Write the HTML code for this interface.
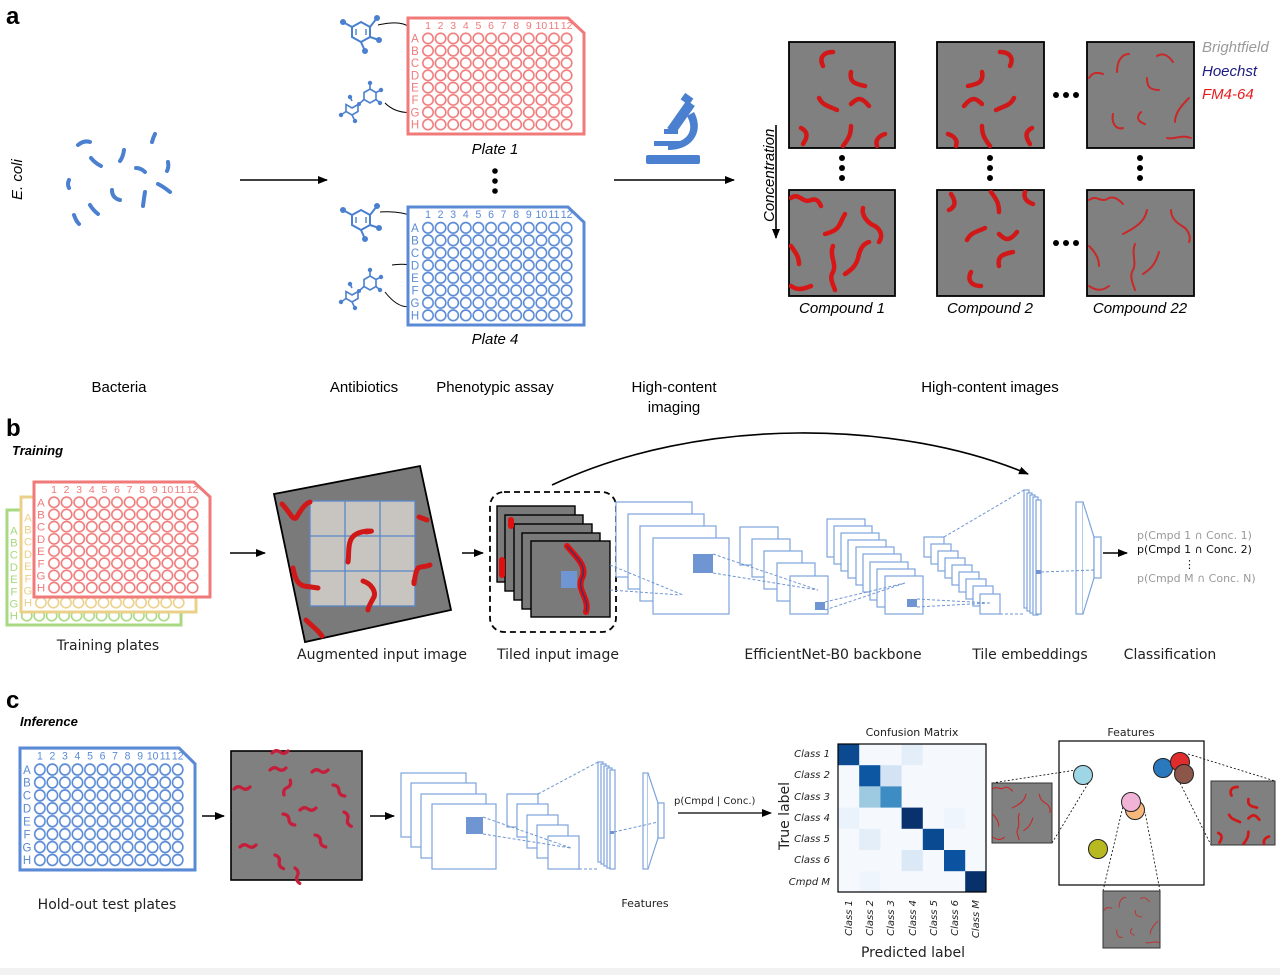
<!DOCTYPE html>
<html><head><meta charset="utf-8"><style>
html,body{margin:0;padding:0;background:#fff}
svg{display:block}
.a{font-family:"Liberation Sans",Arial,sans-serif}
.d{font-family:"DejaVu Sans","Liberation Sans",sans-serif}
</style></head><body>
<svg width="1280" height="975" viewBox="0 0 1280 975" xmlns="http://www.w3.org/2000/svg">
<defs>
<marker id="ar" markerWidth="10" markerHeight="10" refX="9" refY="5" orient="auto" markerUnits="userSpaceOnUse"><path d="M0,1 L10,5 L0,9 Z" fill="#000"/></marker>
<pattern id="pR" patternUnits="userSpaceOnUse" x="15.7" y="16.3" width="12.6" height="12.3"><circle cx="6.3" cy="6.15" r="5.2" fill="none" stroke="#f07a7a" stroke-width="1.6"/></pattern>
<pattern id="pB" patternUnits="userSpaceOnUse" x="15.7" y="16.3" width="12.6" height="12.3"><circle cx="6.3" cy="6.15" r="5.2" fill="none" stroke="#5a8ad6" stroke-width="1.6"/></pattern>
<pattern id="pY" patternUnits="userSpaceOnUse" x="15.7" y="16.3" width="12.6" height="12.3"><circle cx="6.3" cy="6.15" r="5.2" fill="none" stroke="#ebd08a" stroke-width="1.6"/></pattern>
<pattern id="pG" patternUnits="userSpaceOnUse" x="15.7" y="16.3" width="12.6" height="12.3"><circle cx="6.3" cy="6.15" r="5.2" fill="none" stroke="#a8d880" stroke-width="1.6"/></pattern>
<g id="pbase">
<path d="M2,2 H162 L178,17 V118 H2 Z" fill="#fff" stroke="currentColor" stroke-width="3"/>
<g fill="currentColor" font-family="Liberation Sans,DejaVu Sans,sans-serif" font-size="10.5" text-anchor="middle">
<text x="22" y="13">1</text><text x="34.6" y="13">2</text><text x="47.2" y="13">3</text><text x="59.8" y="13">4</text><text x="72.4" y="13">5</text><text x="85" y="13">6</text><text x="97.6" y="13">7</text><text x="110.2" y="13">8</text><text x="122.8" y="13">9</text><text x="135.4" y="13">10</text><text x="148" y="13">11</text><text x="160.6" y="13">12</text>
</g>
<g fill="currentColor" font-family="Liberation Sans,DejaVu Sans,sans-serif" font-size="11.5" text-anchor="middle">
<text x="9" y="26.5">A</text><text x="9" y="38.8">B</text><text x="9" y="51.1">C</text><text x="9" y="63.4">D</text><text x="9" y="75.7">E</text><text x="9" y="88">F</text><text x="9" y="100.3">G</text><text x="9" y="112.6">H</text>
</g></g>
<symbol id="plR" viewBox="0 0 180 120" preserveAspectRatio="none"><use href="#pbase"/><rect x="15.7" y="16.3" width="151.2" height="98.4" fill="url(#pR)"/></symbol>
<symbol id="plB" viewBox="0 0 180 120" preserveAspectRatio="none"><use href="#pbase"/><rect x="15.7" y="16.3" width="151.2" height="98.4" fill="url(#pB)"/></symbol>
<symbol id="plY" viewBox="0 0 180 120" preserveAspectRatio="none"><use href="#pbase"/><rect x="15.7" y="16.3" width="151.2" height="98.4" fill="url(#pY)"/></symbol>
<symbol id="plG" viewBox="0 0 180 120" preserveAspectRatio="none"><use href="#pbase"/><rect x="15.7" y="16.3" width="151.2" height="98.4" fill="url(#pG)"/></symbol>

<g id="wa" fill="none" stroke="#d01818" stroke-width="4.5" stroke-linecap="round" stroke-linejoin="round">
<path d="M34,24 C30,16 34,10 44,10"/><path d="M62,30 C60,40 66,42 76,44"/><path d="M30,56 C34,64 40,64 48,68"/><path d="M62,62 C68,56 72,54 80,64"/><path d="M12,86 C20,90 18,96 14,102"/><path d="M54,104 C60,96 62,92 62,84"/><path d="M88,104 C86,98 90,94 96,92"/>
</g>
<g id="wb" fill="none" stroke="#d81616" stroke-width="4.5" stroke-linecap="round" stroke-linejoin="round">
<path d="M2,8 C10,2 14,14 22,10 C28,8 30,12 32,16"/><path d="M56,24 C50,34 52,40 36,44"/><path d="M74,18 C72,26 80,34 86,36 C92,40 94,46 90,52"/><path d="M2,56 C6,62 10,66 10,74"/><path d="M44,56 C40,66 48,74 44,82 C40,88 44,94 46,100"/><path d="M56,84 C62,80 68,76 70,64 C72,58 74,54 80,52"/><path d="M2,96 C8,100 12,100 22,96"/>
</g>
<g id="wc" fill="none" stroke="#c82828" stroke-width="2" stroke-linecap="round" stroke-linejoin="round">
<path d="M2,36 C6,30 10,30 16,32"/><path d="M30,30 C30,20 34,12 42,12"/><path d="M70,14 C76,10 82,14 86,20"/><path d="M60,36 C60,44 62,48 72,48"/><path d="M26,72 C24,82 30,88 36,86"/><path d="M54,70 C48,76 52,80 58,82"/><path d="M102,56 C96,62 88,70 88,80"/><path d="M80,96 C88,98 94,92 104,96"/>
</g>
<g id="wd" fill="none" stroke="#c82828" stroke-width="2" stroke-linecap="round" stroke-linejoin="round">
<path d="M2,10 C10,4 14,14 22,8 C28,6 32,10 36,14"/><path d="M60,20 C58,30 52,36 36,44"/><path d="M84,20 C84,30 92,34 98,38 C102,42 104,48 102,52"/><path d="M2,56 C8,62 12,68 12,76"/><path d="M48,54 C44,64 50,72 46,80 C42,86 46,94 48,100"/><path d="M56,84 C62,80 68,76 72,62"/><path d="M2,96 C8,100 14,102 22,96"/>
</g>
<g id="ws" fill="none" stroke="#c41e3a" stroke-width="3.2" stroke-linecap="round" stroke-linejoin="round">
<path d="M0,0 q4,-4 8,-1 t8,-1"/>
</g>
<g id="mol" fill="none" stroke="#4a80cf" stroke-width="2">
<path d="M0,-10 L9,-5 L9,5 L0,10 L-9,5 L-9,-5 Z"/><path d="M-5,-3 L-5,3 M5,-3 L5,3" stroke-width="1.4"/>
<path d="M-9,-5 L-18,-10 M9,-5 L16,-14 M9,5 L18,8 M0,10 L4,19"/>
<g fill="#4a80cf" stroke="none"><circle cx="-18" cy="-10" r="3"/><circle cx="16" cy="-14" r="3"/><circle cx="18" cy="8" r="3"/><circle cx="4" cy="19" r="3"/></g>
</g>
<g id="mol2" fill="none" stroke="#4a80cf" stroke-width="1.6">
<path d="M0,-7 L6,-3.5 L6,3.5 L0,7 L-6,3.5 L-6,-3.5 Z"/><path d="M-6,3.5 L-11,8"/>
<path d="M-18,12 L-12,8.5 L-12,15.5 L-18,19 L-24,15.5 L-24,8.5 Z"/>
<path d="M0,-7 L0,-13 M6,-3.5 L11,-6 M6,3.5 L10,7 M-24,15.5 L-29,19 M-18,19 L-15,25 M-18,5 L-20,1"/>
<g fill="#4a80cf" stroke="none"><circle cx="0" cy="-13" r="2.2"/><circle cx="11" cy="-6" r="2.2"/><circle cx="10" cy="7" r="2.2"/><circle cx="-29" cy="19" r="2.2"/><circle cx="-15" cy="25" r="2.2"/><circle cx="-20" cy="1" r="2.2"/><circle cx="-11" cy="8" r="2"/></g>
</g>
</defs>

<!-- ============ PANEL A ============ -->
<g class="a">
<text x="6" y="24" font-size="24" font-weight="bold">a</text>
<text transform="translate(22,200) rotate(-90)" font-size="15" font-style="italic">E. coli</text>
<g fill="none" stroke="#4a80cf" stroke-width="4" stroke-linecap="round">
<path d="M78,145 q6,-5 12,-3"/><path d="M91,158 q4,5 10,8"/><path d="M124,150 q-1,7 -4,11"/><path d="M155,134 q-2,4 -3,8"/><path d="M69,180 q-2,4 0,8"/><path d="M112,190 q0,8 8,10"/><path d="M136,168 q5,0 9,4"/><path d="M168,162 q1,5 -1,9"/><path d="M145,192 q-1,6 -2,14"/><path d="M158,184 q6,3 12,8"/><path d="M74,215 q2,6 5,9"/><path d="M90,205 q3,5 8,9"/>
</g>
<line x1="240" y1="180" x2="327" y2="180" stroke="#000" stroke-width="1.6" marker-end="url(#ar)"/>
<use href="#mol" x="361" y="32"/>
<use href="#mol2" x="370" y="96"/>
<use href="#mol" x="361" y="220"/>
<use href="#mol2" x="370" y="283"/>
<g fill="none" stroke="#000" stroke-width="1">
<path d="M378,25 C400,20 410,24 418,35" marker-end="url(#ar)"/>
<path d="M385,103 C392,110 402,114 416,112"/>
<path d="M380,212 C405,210 425,218 440,234"/>
<path d="M392,265 C410,262 425,268 434,276"/>
<path d="M385,292 C395,305 405,310 416,305"/>
</g>
<use href="#plR" x="406" y="16" width="180" height="120" style="color:#f07a7a"/>
<text x="495" y="154" font-size="15" font-style="italic" text-anchor="middle">Plate 1</text>
<g fill="#000"><circle cx="495" cy="171" r="2.8"/><circle cx="495" cy="181" r="2.8"/><circle cx="495" cy="191" r="2.8"/></g>
<use href="#plB" x="406" y="205" width="180" height="122" style="color:#5a8ad6"/>
<text x="495" y="344" font-size="15" font-style="italic" text-anchor="middle">Plate 4</text>
<!-- microscope -->
<g fill="#4a80cf">
<rect x="646" y="155" width="54" height="9" rx="2"/>
<rect x="654" y="141" width="30" height="5"/>
<path d="M668,150 C694,150 704,130 694,112 L687,116 C695,130 688,143 668,143 Z"/>
<rect x="676" y="100" width="10" height="34" transform="rotate(35 681 117)"/>
<rect x="682" y="95" width="10" height="8" transform="rotate(35 687 99)"/>
<rect x="664" y="129" width="14" height="5"/>
</g>
<line x1="614" y1="180" x2="734" y2="180" stroke="#000" stroke-width="1.6" marker-end="url(#ar)"/>
<!-- images -->
<g stroke="#000" stroke-width="1.8" fill="#808080">
<rect x="789" y="42" width="106" height="106"/><rect x="937" y="42" width="107" height="106"/><rect x="1087" y="42" width="107" height="106"/>
<rect x="789" y="190" width="106" height="106"/><rect x="937" y="190" width="107" height="106"/><rect x="1087" y="190" width="107" height="106"/>
</g>
<svg x="789" y="42" width="106" height="106"><use href="#wa"/></svg>
<svg x="937" y="42" width="107" height="106"><use href="#wa" transform="translate(107,0) scale(-1,1)"/></svg>
<svg x="1087" y="42" width="107" height="106"><use href="#wc"/></svg>
<svg x="789" y="190" width="106" height="106"><use href="#wb"/></svg>
<svg x="937" y="190" width="107" height="106"><use href="#wa" transform="translate(0,106) scale(1,-1)"/></svg>
<svg x="1087" y="190" width="107" height="106"><use href="#wd"/></svg>
<g fill="#000">
<circle cx="842" cy="158" r="3"/><circle cx="842" cy="168" r="3"/><circle cx="842" cy="178" r="3"/>
<circle cx="990" cy="158" r="3"/><circle cx="990" cy="168" r="3"/><circle cx="990" cy="178" r="3"/>
<circle cx="1140" cy="158" r="3"/><circle cx="1140" cy="168" r="3"/><circle cx="1140" cy="178" r="3"/>
<circle cx="1056" cy="95" r="3"/><circle cx="1066" cy="95" r="3"/><circle cx="1076" cy="95" r="3"/>
<circle cx="1056" cy="243" r="3"/><circle cx="1066" cy="243" r="3"/><circle cx="1076" cy="243" r="3"/>
</g>
<line x1="776" y1="125" x2="776" y2="238" stroke="#000" stroke-width="1.6" marker-end="url(#ar)"/>
<text transform="translate(774,222) rotate(-90)" font-size="15" font-style="italic">Concentration</text>
<g font-size="15" font-style="italic" text-anchor="middle">
<text x="842" y="313">Compound 1</text><text x="990" y="313">Compound 2</text><text x="1140" y="313">Compound 22</text>
</g>
<g font-size="15" font-style="italic">
<text x="1202" y="52" fill="#9a9a9a">Brightfield</text>
<text x="1202" y="76" fill="#1a1a80">Hoechst</text>
<text x="1202" y="99" fill="#e81c1c">FM4-64</text>
</g>
<g font-size="15" text-anchor="middle">
<text x="119" y="392">Bacteria</text><text x="364" y="392">Antibiotics</text><text x="495" y="392">Phenotypic assay</text>
<text x="674" y="392">High-content</text><text x="674" y="412">imaging</text><text x="990" y="392">High-content images</text>
</g>
</g>

<!-- ============ PANEL B ============ -->
<text x="6" y="436" font-size="24" font-weight="bold" font-family="Liberation Sans,sans-serif">b</text>
<text x="12" y="455" font-size="13" font-weight="bold" font-style="italic" font-family="Liberation Sans,sans-serif">Training</text>
<use href="#plG" x="5" y="508" width="178" height="119" style="color:#a8d880"/>
<use href="#plY" x="19" y="495" width="179" height="119" style="color:#ebd08a"/>
<use href="#plR" x="32" y="480" width="180" height="119" style="color:#f07a7a"/>
<g class="d" font-size="14" text-anchor="middle" fill="#222">
<text x="108" y="650">Training plates</text>
<text x="382" y="659">Augmented input image</text>
<text x="558" y="659">Tiled input image</text>
<text x="833" y="659">EfficientNet-B0 backbone</text>
<text x="1030" y="659">Tile embeddings</text>
<text x="1170" y="659">Classification</text>
</g>
<line x1="230" y1="553" x2="265" y2="553" stroke="#000" stroke-width="1.6" marker-end="url(#ar)"/>
<polygon points="274,494 420,466 451,610 305,642" fill="#7a7a7a" stroke="#000" stroke-width="1.8"/>
<rect x="310" y="501" width="105" height="105" fill="#c8c4c0"/>
<g stroke="#5a88c8" stroke-width="1.3" fill="none"><rect x="310" y="501" width="105" height="105"/><path d="M345,501 V606 M380,501 V606 M310,536 H415 M310,571 H415"/></g>
<g fill="none" stroke="#d01818" stroke-width="5" stroke-linecap="round" stroke-linejoin="round">
<path d="M282,504 C290,512 292,520 296,518 C300,512 304,504 310,502"/>
<path d="M366,532 C372,531 374,531 367,531 C360,532 352,534 350,542 C348,548 349,556 348,562"/>
<path d="M419,517 L427,520"/><path d="M414,581 C414,590 414,574 418,568 C422,566 426,567 430,565"/>
<path d="M293,568 C295,578 297,584 304,586 L318,588"/><path d="M363,581 C372,584 376,592 374,597 C370,604 368,608 368,610"/>
<path d="M306,620 C312,626 318,630 322,636"/>
</g>
<line x1="462" y1="553" x2="483" y2="553" stroke="#000" stroke-width="1.6" marker-end="url(#ar)"/>
<rect x="490" y="492" width="126" height="140" rx="14" fill="none" stroke="#000" stroke-width="1.8" stroke-dasharray="6,4"/>
<g stroke="#000" stroke-width="1.4" fill="#7a7a7a">
<rect x="497" y="506" width="78" height="76"/><rect x="505" y="515" width="78" height="76"/><rect x="514" y="524" width="78" height="76"/><rect x="522" y="533" width="78" height="76"/><rect x="531" y="541" width="79" height="76"/>
</g>
<g fill="none" stroke="#e01010" stroke-width="6" stroke-linecap="round"><path d="M511,520 V526"/><path d="M502,560 V575"/><path d="M567,546 C575,556 588,566 582,578 C576,590 590,598 586,612"/></g>
<path d="M567,546 C575,556 588,566 582,578 C576,590 590,598 586,612" fill="none" stroke="#40306a" stroke-width="1.4"/>
<rect x="561" y="571" width="16" height="17" fill="#6f95d3"/>
<path d="M552,485 C700,415 900,420 1028,474" fill="none" stroke="#000" stroke-width="1.6" marker-end="url(#ar)"/>
<!-- CNN b -->
<g fill="#fff" stroke="#7da4dc" stroke-width="1.2">
<rect x="616" y="502" width="76" height="75"/><rect x="628" y="514" width="76" height="75"/><rect x="640" y="526" width="76" height="75"/><rect x="653" y="538" width="76" height="76"/>
<rect x="740" y="527" width="38" height="38"/><rect x="752" y="539" width="38" height="38"/><rect x="764" y="551" width="38" height="38"/><rect x="777" y="563" width="38" height="38"/><rect x="790" y="576" width="38" height="38"/>
<rect x="827" y="519" width="38" height="38"/><rect x="834" y="526" width="38" height="38"/><rect x="841" y="533" width="38" height="38"/><rect x="848" y="540" width="38" height="38"/><rect x="856" y="547" width="38" height="38"/><rect x="863" y="554" width="38" height="38"/><rect x="870" y="562" width="38" height="38"/><rect x="877" y="569" width="38" height="38"/><rect x="885" y="576" width="38" height="38"/>
<rect x="924" y="537" width="20" height="20"/><rect x="931" y="544" width="20" height="20"/><rect x="938" y="551" width="20" height="20"/><rect x="945" y="558" width="20" height="20"/><rect x="952" y="565" width="20" height="20"/><rect x="959" y="572" width="20" height="20"/><rect x="966" y="579" width="20" height="20"/><rect x="973" y="586" width="20" height="20"/><rect x="980" y="594" width="20" height="20"/>
<rect x="1024" y="490" width="5" height="118"/><rect x="1027" y="493" width="5" height="118"/><rect x="1030" y="495" width="5" height="118"/><rect x="1033" y="497" width="5" height="118"/><rect x="1036" y="500" width="5" height="114"/>
<rect x="1076" y="502" width="7" height="112"/><path d="M1083,502 L1094,537 V578 L1083,614"/><rect x="1094" y="537" width="7" height="41"/>
</g>
<g fill="#6f95d3"><rect x="693" y="554" width="20" height="19"/><rect x="815" y="602" width="10" height="8"/><rect x="907" y="599" width="10" height="8"/><rect x="1036" y="570" width="5" height="4"/></g>
<g fill="none" stroke="#6f95d3" stroke-width="1" stroke-dasharray="3,2">
<path d="M610,565 L683,595 M610,590 L680,595"/><path d="M713,554 L818,590 M713,573 L818,590"/><path d="M825,602 L905,583 M825,610 L905,583"/><path d="M917,599 L990,603 M917,607 L990,603"/><path d="M944,537 L1024,490 M1000,614 L1024,614"/><path d="M1041,572 L1094,570"/>
</g>
<g class="d" font-size="11">
<text x="1137" y="539" fill="#999">p(Cmpd 1 ∩ Conc. 1)</text>
<text x="1137" y="553" fill="#111">p(Cmpd 1 ∩ Conc. 2)</text>
<text x="1184" y="568" fill="#111">⋮</text>
<text x="1137" y="582" fill="#999">p(Cmpd M ∩ Conc. N)</text>
</g>
<line x1="1103" y1="553" x2="1127" y2="553" stroke="#000" stroke-width="1.6" marker-end="url(#ar)"/>

<!-- ============ PANEL C ============ -->
<text x="6" y="708" font-size="24" font-weight="bold" font-family="Liberation Sans,sans-serif">c</text>
<text x="20" y="726" font-size="13" font-weight="bold" font-style="italic" font-family="Liberation Sans,sans-serif">Inference</text>
<use href="#plB" x="18" y="746" width="179" height="126" style="color:#5a8ad6"/>
<text class="d" x="107" y="909" font-size="14" text-anchor="middle" fill="#222">Hold-out test plates</text>
<line x1="202" y1="816" x2="224" y2="816" stroke="#000" stroke-width="1.6" marker-end="url(#ar)"/>
<rect x="231" y="751" width="131" height="129" fill="#808080" stroke="#000" stroke-width="1.6"/>
<g>
<use href="#ws" x="272" y="753"/><use href="#ws" x="270" y="770"/><use href="#ws" x="312" y="772"/><use href="#ws" x="234" y="789"/><use href="#ws" x="300" y="810"/>
<use href="#ws" transform="translate(284,795) rotate(-60)"/><use href="#ws" transform="translate(333,785) rotate(50)"/><use href="#ws" transform="translate(283,814) rotate(50)"/><use href="#ws" transform="translate(344,812) rotate(70)"/><use href="#ws" x="240" y="847"/><use href="#ws" transform="translate(315,835) rotate(55)"/><use href="#ws" transform="translate(275,855) rotate(65)"/><use href="#ws" transform="translate(295,868) rotate(80)"/>
</g>
<line x1="370" y1="816" x2="394" y2="816" stroke="#000" stroke-width="1.6" marker-end="url(#ar)"/>
<g fill="#fff" stroke="#7da4dc" stroke-width="1.2">
<rect x="401" y="773" width="65" height="64"/><rect x="411" y="783" width="65" height="64"/><rect x="421" y="794" width="65" height="64"/><rect x="432" y="804" width="64" height="65"/>
<rect x="507" y="794" width="31" height="33"/><rect x="517" y="804" width="31" height="33"/><rect x="527" y="815" width="31" height="33"/><rect x="537" y="825" width="31" height="33"/><rect x="548" y="836" width="31" height="33"/>
<rect x="598" y="762" width="5" height="100"/><rect x="601" y="764" width="5" height="100"/><rect x="604" y="766" width="5" height="100"/><rect x="607" y="768" width="5" height="100"/><rect x="610" y="770" width="5" height="99"/>
<rect x="643" y="773" width="5" height="96"/><path d="M648,773 L658,803 V838 L648,869"/><rect x="658" y="803" width="6" height="35"/>
</g>
<rect x="466" y="817" width="17" height="17" fill="#6f95d3"/><rect x="610" y="831" width="4" height="3" fill="#6f95d3"/>
<g fill="none" stroke="#6f95d3" stroke-width="1" stroke-dasharray="3,2">
<path d="M483,817 L571,848 M483,834 L571,848"/><path d="M538,794 L598,762 M579,869 L598,869"/><path d="M614,832 L658,822"/>
</g>
<text class="d" x="645" y="907" font-size="11" text-anchor="middle" fill="#222">Features</text>
<text class="d" x="674" y="804" font-size="10" fill="#222">p(Cmpd | Conc.)</text>
<line x1="678" y1="813" x2="771" y2="813" stroke="#000" stroke-width="1.3" marker-end="url(#ar)"/>
<!-- confusion matrix -->
<text class="d" x="912" y="736" font-size="11" text-anchor="middle" fill="#222">Confusion Matrix</text>
<rect x="838" y="744" width="148" height="148" fill="#f5f9fe"/>
<g>
<rect x="838" y="744" width="21.2" height="21.2" fill="#0b4a90"/><rect x="901.6" y="744" width="21.2" height="21.2" fill="#e4eef9"/>
<rect x="859.2" y="765.2" width="21.2" height="21.2" fill="#0d56a1"/><rect x="880.4" y="765.2" width="21.2" height="21.2" fill="#d3e3f3"/>
<rect x="859.2" y="786.4" width="21.2" height="21.2" fill="#9dc9e1"/><rect x="880.4" y="786.4" width="21.2" height="21.2" fill="#3d8cc4"/>
<rect x="838" y="807.6" width="21.2" height="21.2" fill="#eaf2fb"/><rect x="901.6" y="807.6" width="21.2" height="21.2" fill="#08316d"/><rect x="944" y="807.6" width="21.2" height="21.2" fill="#eef5fc"/>
<rect x="859.2" y="828.8" width="21.2" height="21.2" fill="#e3eef9"/><rect x="922.8" y="828.8" width="21.2" height="21.2" fill="#0a4a91"/>
<rect x="901.6" y="850" width="21.2" height="21.2" fill="#dbe9f6"/><rect x="944" y="850" width="21.2" height="21.2" fill="#0b52a0"/>
<rect x="859.2" y="871.2" width="21.2" height="20.8" fill="#eef5fc"/><rect x="965.2" y="871.2" width="20.8" height="20.8" fill="#08306b"/>
</g>
<rect x="838" y="744" width="148" height="148" fill="none" stroke="#000" stroke-width="1.2"/>
<g class="d" font-size="10" font-style="italic" text-anchor="end" fill="#222">
<text x="830" y="757">Class 1</text><text x="830" y="778">Class 2</text><text x="830" y="800">Class 3</text><text x="830" y="821">Class 4</text><text x="830" y="842">Class 5</text><text x="830" y="863">Class 6</text><text x="830" y="885">Cmpd M</text>
</g>
<g class="d" font-size="10" font-style="italic" text-anchor="end" fill="#222">
<text transform="translate(852,900) rotate(-90)">Class 1</text><text transform="translate(873,900) rotate(-90)">Class 2</text><text transform="translate(894,900) rotate(-90)">Class 3</text><text transform="translate(916,900) rotate(-90)">Class 4</text><text transform="translate(937,900) rotate(-90)">Class 5</text><text transform="translate(958,900) rotate(-90)">Class 6</text><text transform="translate(979,900) rotate(-90)">Class M</text>
</g>
<text class="d" x="913" y="957" font-size="14" text-anchor="middle" fill="#222">Predicted label</text>
<text class="d" transform="translate(789,850) rotate(-90)" font-size="14" fill="#222">True label</text>
<!-- features -->
<text class="d" x="1131" y="736" font-size="11" text-anchor="middle" fill="#222">Features</text>
<rect x="1059" y="741" width="145" height="144" fill="#fff" stroke="#000" stroke-width="1.2"/>
<g fill="none" stroke="#000" stroke-width="0.8" stroke-dasharray="2,2">
<path d="M992,783 L1076,770 M1052,843 L1089,782"/><path d="M1188,754 L1275,781 M1180,783 L1211,845"/><path d="M1103,891 L1124,802 M1160,891 L1145,812"/>
</g>
<g stroke="#222" stroke-width="1">
<circle cx="1083" cy="775" r="9.5" fill="#9fd6e6"/>
<circle cx="1163" cy="768" r="9.5" fill="#2a78bd"/>
<circle cx="1180" cy="762" r="9.5" fill="#e02c2c"/>
<circle cx="1184" cy="774" r="9.5" fill="#8c564b"/>
<circle cx="1135" cy="810" r="9.5" fill="#f7b87c"/>
<circle cx="1131" cy="802" r="9.5" fill="#f2b4d6"/>
<circle cx="1098" cy="849" r="9.5" fill="#b8b820"/>
</g>
<g stroke="#333" stroke-width="1" fill="#808080">
<rect x="992" y="783" width="60" height="60"/><rect x="1211" y="781" width="64" height="64"/><rect x="1103" y="891" width="57" height="57"/>
</g>
<svg x="992" y="783" width="60" height="60" viewBox="0 0 106 106"><use href="#wd"/></svg>
<svg x="1211" y="781" width="64" height="64" viewBox="0 0 106 106"><use href="#wa"/></svg>
<svg x="1103" y="891" width="57" height="57" viewBox="0 0 106 106"><use href="#wc" opacity="0.8"/></svg>
<rect x="0" y="968" width="1280" height="7" fill="#f2f2f2"/>
</svg>
</body></html>
